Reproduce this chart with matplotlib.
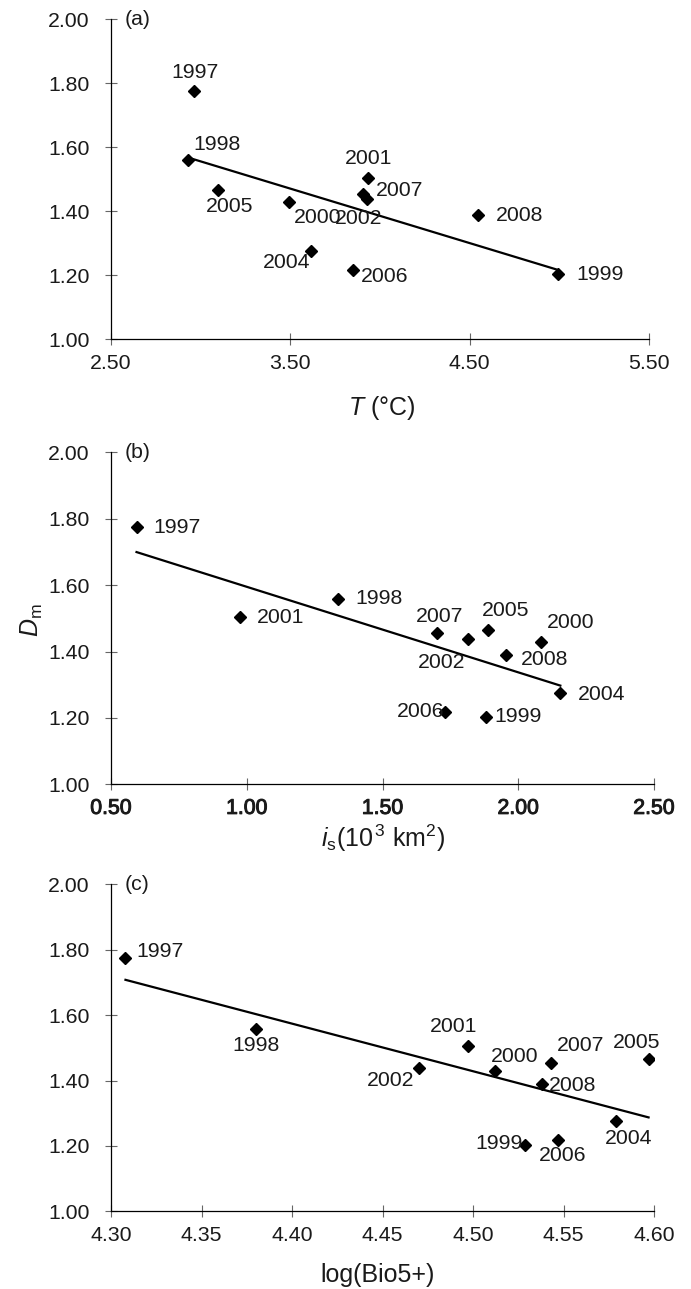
import numpy as np
import matplotlib
matplotlib.use("Agg")
import matplotlib.pyplot as plt
import matplotlib.patheffects as pe

plt.rcParams['font.family'] = ['Liberation Sans', 'DejaVu Sans']
plt.rcParams['mathtext.fontset'] = 'custom'
plt.rcParams['mathtext.rm'] = 'Liberation Sans'
plt.rcParams['mathtext.it'] = 'Liberation Sans:italic'
plt.rcParams['mathtext.bf'] = 'Liberation Sans:bold'

# ---------------- data ----------------
years = ['1997', '1998', '1999', '2000', '2001', '2002', '2004', '2005', '2006', '2007', '2008']
Dm = [1.776, 1.559, 1.204, 1.428, 1.505, 1.437, 1.275, 1.465, 1.218, 1.455, 1.390]

T_a = [2.962, 2.930, 4.994, 3.495, 3.935, 3.925, 3.613, 3.095, 3.851, 3.903, 4.544]
is_b = [0.594, 1.335, 1.880, 2.084, 0.974, 1.814, 2.155, 1.888, 1.730, 1.699, 1.956]
bio_c = [4.308, 4.380, 4.529, 4.512, 4.497, 4.470, 4.579, 4.597, 4.547, 4.543, 4.538]

xticks_a = [2.50, 3.50, 4.50, 5.50]
xticks_b = [0.50, 1.00, 1.50, 2.00, 2.50]
xticks_c = [4.30, 4.35, 4.40, 4.45, 4.50, 4.55, 4.60]
yticks = [1.00, 1.20, 1.40, 1.60, 1.80, 2.00]

# label offsets in pixels (dx right, dy down)
off_a = {'1997': (1, -18), '1998': (29, -16), '2005': (12, 16), '2000': (28, 15),
         '2002': (-8, 19), '2001': (0, -19), '2007': (37, -3), '2008': (42, 1),
         '2004': (-24, 11), '2006': (31, 7), '1999': (42, 0)}
off_b = {'1997': (41, 1), '2001': (41, 1), '1998': (41, 0), '2007': (3, -17),
         '2002': (-26, 23), '2005': (18, -19), '2000': (30, -20), '2008': (38, 5),
         '2004': (41, 1), '2006': (-24, 0), '1999': (32, 0)}
off_c = {'1997': (35, -6), '1998': (0, 17), '2002': (-28, 12), '2001': (-14, -20),
         '2000': (20, -15), '2007': (30, -17), '2008': (31, 2), '2005': (-12, -17),
         '2004': (13, 17), '1999': (-26, -1), '2006': (5, 15)}

W, H = 691, 1289
fig = plt.figure(figsize=(W / 100, H / 100), dpi=100)

def frac_rect(left, right, top, bottom):
    return [left / W, 1 - bottom / H, (right - left) / W, (bottom - top) / H]

panels = [
    (frac_rect(111, 649, 19.3, 339.3), T_a, xticks_a, (2.5, 5.5), off_a, '(a)', False),
    (frac_rect(111, 654, 452.3, 784.3), is_b, xticks_b, (0.5, 2.5), off_b, '(b)', True),
    (frac_rect(111, 654, 884.3, 1211.3), bio_c, xticks_c, (4.30, 4.60), off_c, '(c)', False),
]

txtcol = '#1a1a1a'
fs = 15.3
for rect, xs, xt, xl, offs, tag, heavy in panels:
    ax = fig.add_axes(rect)
    xs_arr = np.array(xs)
    ys_arr = np.array(Dm)
    ax.plot(xs_arr, ys_arr, linestyle='none', marker='D', ms=6.5,
            color='black', zorder=3)
    k, b = np.polyfit(xs_arr, ys_arr, 1)
    xx = np.array([xs_arr.min(), xs_arr.max()])
    ax.plot(xx, k * xx + b, color='black', lw=1.6, zorder=2)
    for yr, x, y in zip(years, xs, Dm):
        dx, dy = offs[yr]
        ax.annotate(yr, (x, y), xytext=(dx, -dy), textcoords='offset pixels',
                    ha='center', va='center', fontsize=fs, color=txtcol)
    ax.set_xlim(*xl)
    ax.set_ylim(1.0, 2.0)
    ax.set_xticks(xt)
    ax.set_yticks(yticks)
    ax.set_xticklabels([f'{v:.2f}' for v in xt])
    ax.set_yticklabels([f'{v:.2f}' for v in yticks])
    for s in ['top', 'right']:
        ax.spines[s].set_visible(False)
    for s in ['left', 'bottom']:
        ax.spines[s].set_linewidth(0.9)
        ax.spines[s].set_color('black')
    ax.tick_params(axis='both', direction='inout', length=9, width=0.8,
                   color='#666666', labelsize=fs, labelcolor=txtcol)
    ax.tick_params(axis='y', pad=11)
    ax.tick_params(axis='x', pad=6)
    if heavy:
        for lab in ax.get_xticklabels():
            lab.set_path_effects([pe.withStroke(linewidth=0.7, foreground=txtcol)])
    ax.annotate(tag, (0, 1), xycoords='axes fraction', xytext=(14, 0),
                textcoords='offset pixels', ha='left', va='center',
                fontsize=fs, color=txtcol)
    ax.patch.set_alpha(0)

def ftext(x, y, s, **kw):
    fig.text(x / W, 1 - y / H, s, ha='center', va='center', color=txtcol, **kw)

ftext(382, 408, r'$T$ (°C)', fontsize=18)
ftext(32, 620, r'$D_{\mathrm{m}}$', fontsize=18, rotation=90)
ftext(383, 838, r'$i_{\mathrm{s}}$(10$^{\,3}$ km$^{2}$)', fontsize=18)
ftext(378, 1275, 'log(Bio5+)', fontsize=18)

fig.savefig('out.png', dpi=100)
